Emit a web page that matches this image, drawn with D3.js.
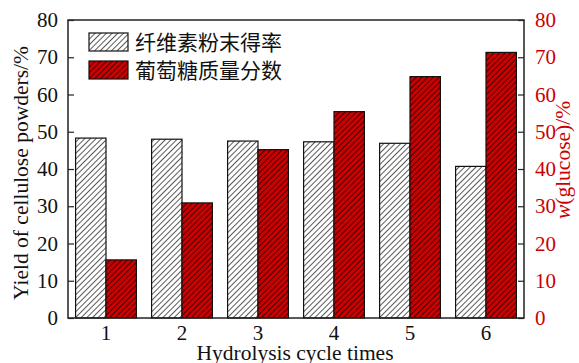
<!DOCTYPE html>
<html>
<head>
<meta charset="utf-8">
<script src="https://cdn.jsdelivr.net/npm/d3@7"></script>
<style>
body { margin: 0; background: #fff; }
</style>
</head>
<body>
<div id="chart"></div>
<script>
const width = 579;
const height = 363;
const marginTop = 20;
const marginRight = 55;
const marginBottom = 45;
const marginLeft = 68;

const cycles = ['1', '2', '3', '4', '5', '6'];
const yieldValues = [48.3, 48.0, 47.5, 47.3, 46.9, 40.7];
const glucoseValues = [15.6, 30.9, 45.2, 55.4, 64.8, 71.3];
const yTicks = [0, 10, 20, 30, 40, 50, 60, 70, 80];
const legendNames = ['纤维素粉末得率', '葡萄糖质量分数'];

const red = '#cc0000';
const serif = '"Liberation Serif", "Times New Roman", serif';

const svg = d3.select('#chart').append('svg')
  .attr('width', width)
  .attr('height', height);

// hatch patterns
const defs = svg.append('defs');
function hatch(id, bg) {
  const p = defs.append('pattern')
    .attr('id', id)
    .attr('patternUnits', 'userSpaceOnUse')
    .attr('width', 4)
    .attr('height', 4)
    .attr('patternTransform', 'rotate(45)');
  p.append('rect').attr('width', 4).attr('height', 4).attr('fill', bg);
  p.append('line')
    .attr('x1', 0).attr('y1', 0).attr('x2', 0).attr('y2', 4)
    .attr('stroke', '#000')
    .attr('stroke-width', 1.3);
}
hatch('hatchWhite', '#fff');
hatch('hatchRed', red);

const x = d3.scaleBand()
  .domain(cycles)
  .range([marginLeft, width - marginRight])
  .paddingInner(0.2)
  .paddingOuter(0.1);

const x1 = d3.scaleBand()
  .domain(['yield', 'glucose'])
  .range([0, x.bandwidth()]);

const yLeft = d3.scaleLinear().domain([0, 80]).range([height - marginBottom, marginTop]);
const yRight = d3.scaleLinear().domain([0, 80]).range([height - marginBottom, marginTop]);

// bars
const groups = svg.append('g')
  .selectAll('g')
  .data(cycles)
  .join('g')
  .attr('transform', d => `translate(${x(d)},0)`);

groups.append('rect')
  .attr('x', x1('yield'))
  .attr('width', x1.bandwidth())
  .attr('y', (d, i) => yLeft(yieldValues[i]))
  .attr('height', (d, i) => yLeft(0) - yLeft(yieldValues[i]))
  .attr('fill', 'url(#hatchWhite)')
  .attr('stroke', '#111')
  .attr('stroke-width', 1.2);

groups.append('rect')
  .attr('x', x1('glucose'))
  .attr('width', x1.bandwidth())
  .attr('y', (d, i) => yRight(glucoseValues[i]))
  .attr('height', (d, i) => yRight(0) - yRight(glucoseValues[i]))
  .attr('fill', 'url(#hatchRed)')
  .attr('stroke', '#111')
  .attr('stroke-width', 1.2);

// frame
svg.append('rect')
  .attr('x', marginLeft)
  .attr('y', marginTop)
  .attr('width', width - marginRight - marginLeft)
  .attr('height', height - marginBottom - marginTop)
  .attr('fill', 'none')
  .attr('stroke', '#222')
  .attr('stroke-width', 1.5);

// left axis
const leftAxis = svg.append('g')
  .attr('transform', `translate(${marginLeft},0)`)
  .call(d3.axisLeft(yLeft).tickValues(yTicks).tickSize(-6).tickPadding(10));
leftAxis.select('.domain').remove();
leftAxis.selectAll('line').attr('stroke', '#222').attr('stroke-width', 1.2);
leftAxis.selectAll('text')
  .attr('font-family', serif)
  .attr('font-size', 21)
  .attr('fill', '#111');

// right axis
const rightAxis = svg.append('g')
  .attr('transform', `translate(${width - marginRight},0)`)
  .call(d3.axisRight(yRight).tickValues(yTicks).tickSize(-6).tickPadding(11));
rightAxis.select('.domain').remove();
rightAxis.selectAll('line').attr('stroke', '#222').attr('stroke-width', 1.2);
rightAxis.selectAll('text')
  .attr('font-family', serif)
  .attr('font-size', 21)
  .attr('fill', red);

// bottom axis
const bottomAxis = svg.append('g')
  .attr('transform', `translate(0,${height - marginBottom})`)
  .call(d3.axisBottom(x).tickSize(0).tickPadding(7));
bottomAxis.select('.domain').remove();
bottomAxis.selectAll('text')
  .attr('font-family', serif)
  .attr('font-size', 21)
  .attr('fill', '#111');

// axis titles
svg.append('text')
  .attr('transform', 'translate(28,173) rotate(-90)')
  .attr('text-anchor', 'middle')
  .attr('font-family', serif)
  .attr('font-size', 21.5)
  .attr('fill', '#111')
  .text('Yield of cellulose powders/%');

const rTitle = svg.append('text')
  .attr('transform', 'translate(570,160) rotate(-90)')
  .attr('text-anchor', 'middle')
  .attr('font-family', serif)
  .attr('font-size', 21.5)
  .attr('fill', red);
rTitle.append('tspan').attr('font-style', 'italic').text('w');
rTitle.append('tspan').text('(glucose)/%');

svg.append('text')
  .attr('x', 295)
  .attr('y', 360)
  .attr('text-anchor', 'middle')
  .attr('font-family', serif)
  .attr('font-size', 21.5)
  .attr('fill', '#111')
  .text('Hydrolysis cycle times');

// legend
const legend = svg.append('g')
  .selectAll('g')
  .data(legendNames)
  .join('g')
  .attr('transform', (d, i) => `translate(89,${33 + i * 28})`);

legend.append('rect')
  .attr('width', 39)
  .attr('height', 18)
  .attr('fill', (d, i) => i === 0 ? 'url(#hatchWhite)' : 'url(#hatchRed)')
  .attr('stroke', '#111')
  .attr('stroke-width', 1.2);

legend.append('text')
  .attr('x', 46)
  .attr('y', 9)
  .attr('dy', '0.36em')
  .attr('font-family', '"Noto Sans CJK SC", sans-serif')
  .attr('font-size', 21)
  .attr('fill', '#111')
  .text(d => d);
</script>
</body>
</html>
